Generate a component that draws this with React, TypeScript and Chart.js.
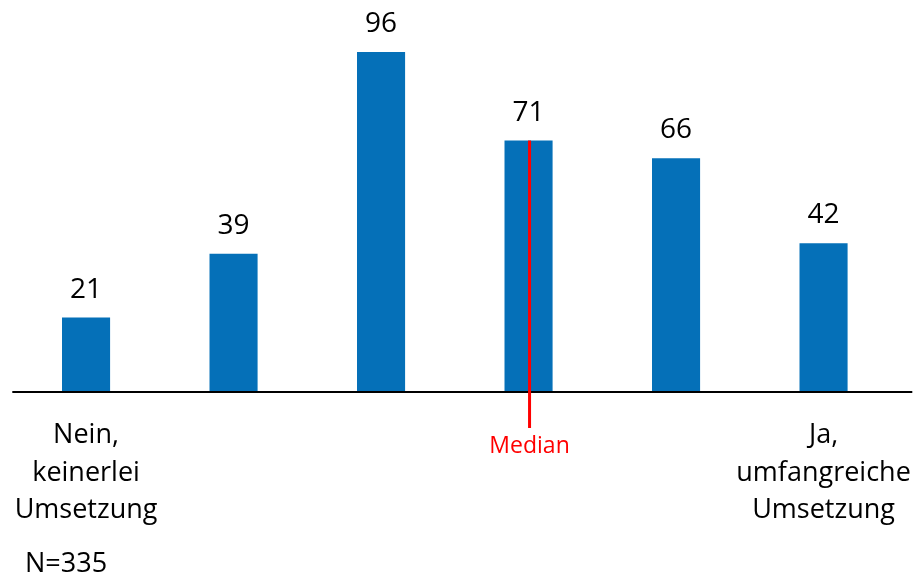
import React, { useEffect, useRef } from "react";
import { Chart, registerables } from "chart.js";

Chart.register(...registerables);

// Answer categories on a six-point scale; only the end points carry a caption.
const categories = ["1", "2", "3", "4", "5", "6"];
const categoryCaptions: string[][] = [
  ["Nein,", "keinerlei", "Umsetzung"],
  [],
  [],
  [],
  [],
  ["Ja,", "umfangreiche", "Umsetzung"],
];
const counts = [21, 39, 96, 71, 66, 42];
const medianIndex = 3;
const medianLabel = "Median";
const sampleLabel = "N=335";

const BAR_COLOR = "#0570B8";
const FONT = '"Open Sans", "Noto Sans", sans-serif';

const annotations = {
  id: "annotations",
  afterDatasetsDraw(chart: any) {
    const { ctx, chartArea } = chart;
    const x = chart.scales.x;
    const y = chart.scales.y;
    const base = y.getPixelForValue(0);
    ctx.save();

    // baseline axis, slightly longer than the plot area
    ctx.strokeStyle = "#000";
    ctx.lineWidth = 2;
    ctx.beginPath();
    ctx.moveTo(chartArea.left, base);
    ctx.lineTo(chartArea.right + 15, base);
    ctx.stroke();

    // value labels above the bars
    ctx.fillStyle = "#000";
    ctx.textAlign = "center";
    ctx.textBaseline = "alphabetic";
    ctx.font = `28px ${FONT}`;
    counts.forEach((v, i) => {
      ctx.fillText(String(v), x.getPixelForValue(i), y.getPixelForValue(v) - 20);
    });

    // captions for the two scale ends
    ctx.font = `27px ${FONT}`;
    categoryCaptions.forEach((lines, i) => {
      lines.forEach((line, j) => {
        ctx.fillText(line, x.getPixelForValue(i), base + 51 + j * 37.5);
      });
    });

    // sample size
    ctx.textAlign = "left";
    ctx.fillText(sampleLabel, 25, base + 180);

    // median marker
    const mx = x.getPixelForValue(medianIndex) + 1;
    ctx.strokeStyle = "#FF0000";
    ctx.lineWidth = 3;
    ctx.beginPath();
    ctx.moveTo(mx, y.getPixelForValue(counts[medianIndex]));
    ctx.lineTo(mx, base + 36);
    ctx.stroke();
    ctx.fillStyle = "#FF0000";
    ctx.textAlign = "center";
    ctx.font = `23px ${FONT}`;
    ctx.fillText(medianLabel, mx, base + 61);

    ctx.restore();
  },
};

export default function App() {
  const canvasRef = useRef<HTMLCanvasElement>(null);

  useEffect(() => {
    if (!canvasRef.current) return;
    const chart = new Chart(canvasRef.current, {
      type: "bar",
      data: {
        labels: categories,
        datasets: [
          {
            data: counts,
            backgroundColor: BAR_COLOR,
            borderWidth: 0,
            barPercentage: 0.326,
            categoryPercentage: 1,
          },
        ],
      },
      options: {
        animation: false,
        responsive: false,
        maintainAspectRatio: false,
        layout: { padding: { left: 12.3, right: 18.7, top: 37.8, bottom: 183 } },
        plugins: { legend: { display: false }, tooltip: { enabled: false } },
        scales: {
          x: { display: false, offset: true },
          y: { display: false, min: 0, max: 100 },
        },
      },
      plugins: [annotations],
    });
    return () => chart.destroy();
  }, []);

  return (
    <div style={{ position: "fixed", left: 0, top: 0, width: 916, height: 575, background: "#fff" }}>
      <canvas ref={canvasRef} width={916} height={575} />
    </div>
  );
}
